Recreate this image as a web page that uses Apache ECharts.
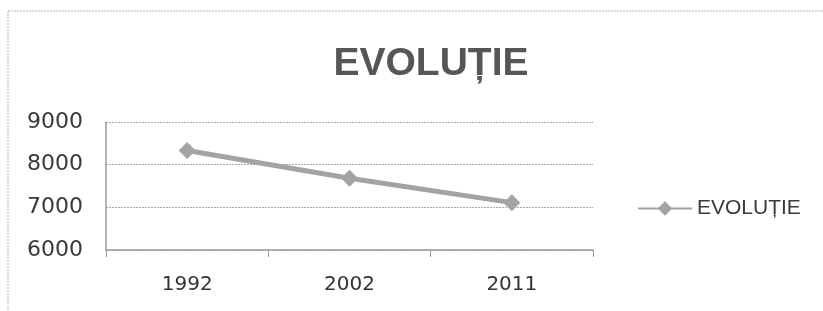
<!DOCTYPE html>
<html>
<head>
<meta charset="utf-8">
<script src="https://cdn.jsdelivr.net/npm/echarts@6/dist/echarts.min.js"></script>
<style>
  html, body { margin: 0; padding: 0; background: #fff; }
  #main { width: 823px; height: 311px; }
</style>
</head>
<body>
<div id="main"></div>
<script>
var years = ['1992', '2002', '2011'];
var evolutie = [8330, 7680, 7110];
var yTicks = [6000, 7000, 8000, 9000];

var chartDom = document.getElementById('main');
var myChart = echarts.init(chartDom);
var option;

option = {
  backgroundColor: '#fff',
  textStyle: { fontFamily: 'DejaVu Sans' },
  graphic: [
    {
      type: 'rect',
      shape: { x: 8, y: 11, width: 830, height: 320 },
      style: { fill: 'none', stroke: '#b5b5b5', lineWidth: 1, lineDash: [2, 1] },
      silent: true
    }
  ],
  title: {
    text: 'EVOLUȚIE',
    left: 426,
    textAlign: 'center',
    top: 40,
    textStyle: { fontSize: 39, fontWeight: 'bold', color: '#565656', fontFamily: 'Liberation Sans' }
  },
  legend: {
    data: ['EVOLUȚIE'],
    orient: 'vertical',
    left: 632,
    top: 193,
    itemWidth: 54,
    itemHeight: 18,
    itemGap: 8,
    textStyle: { fontSize: 21, color: '#3a3a3a', fontFamily: 'Liberation Sans' }
  },
  grid: { left: 106, right: 230, top: 122, bottom: 61 },
  xAxis: {
    type: 'category',
    data: years,
    boundaryGap: true,
    axisLine: { lineStyle: { color: '#9a9a9a', width: 1.5 } },
    axisTick: { show: true, length: 7, lineStyle: { color: '#9a9a9a' } },
    axisLabel: { fontSize: 20, color: '#333', margin: 25 }
  },
  yAxis: {
    type: 'value',
    min: yTicks[0],
    max: yTicks[yTicks.length - 1],
    interval: 1000,
    axisLine: { show: true, lineStyle: { color: '#9a9a9a', width: 1.5 } },
    axisTick: { show: false },
    axisLabel: { fontSize: 22, color: '#3a3a3a', margin: 23, formatter: function (v) { return String(v); } },
    splitLine: { lineStyle: { color: '#a8a8a8', type: [2, 1], width: 1.2 } }
  },
  series: [
    {
      name: 'EVOLUȚIE',
      type: 'line',
      data: evolutie,
      symbol: 'diamond',
      symbolSize: 17,
      color: '#a3a3a3',
      lineStyle: { width: 5, color: '#a3a3a3' },
      itemStyle: { color: '#a3a3a3' }
    }
  ]
};

option && myChart.setOption(option);
</script>
</body>
</html>
